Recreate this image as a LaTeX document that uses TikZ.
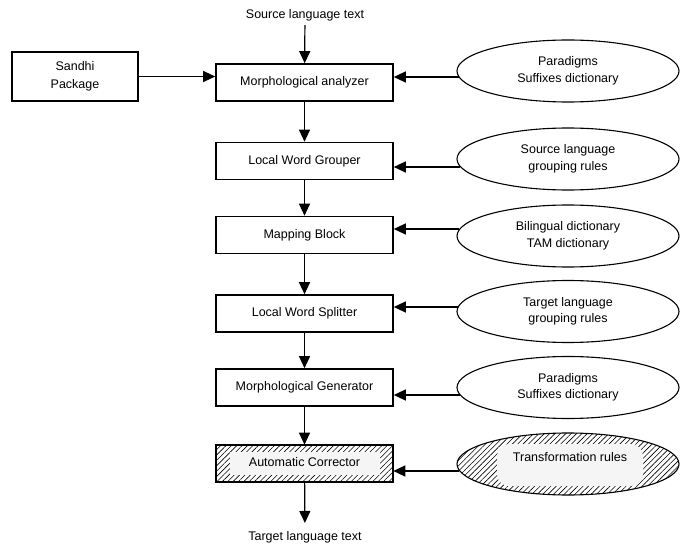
\documentclass[tikz,border=0pt]{standalone}
\usepackage{fontspec}
\setmainfont{Liberation Sans}
\usetikzlibrary{shapes.geometric,arrows.meta,patterns.meta}
\tikzset{
  txt/.style={font=\fontsize{12.5}{16.5}\selectfont, align=center},
  stagebox/.style={txt, draw, line width=1.6pt, minimum width=177pt, minimum height=37pt, inner sep=0pt},
  resell/.style={txt, ellipse, draw, line width=1.1pt, minimum width=222pt, minimum height=62pt, inner sep=0pt},
  arr/.style={-{Triangle[length=12pt,width=11pt]}, line width=1.2pt},
  hatch/.style={pattern={Lines[angle=45,distance=3.8pt,line width=0.6pt]}, pattern color=black},
  lightfill/.style={fill=gray!8, draw=none, inner sep=0pt}
}
\begin{document}
\begin{tikzpicture}[x=1pt,y=-1pt]
\useasboundingbox[fill=white] (0,0) rectangle (680,548);

% main column
\node[txt, inner sep=4pt] (src) at (305,15) {Source language text};
\node[stagebox] (m1) at (304.5,82.5) {Morphological analyzer};
\node[stagebox] (m2) at (304.5,161) {Local Word Grouper};
\node[stagebox] (m3) at (304.5,235) {Mapping Block};
\node[stagebox] (m4) at (304.5,313.5) {Local Word Splitter};
\node[stagebox] (m5) at (304.5,387.5) {Morphological Generator};
\node[stagebox, hatch] (m6) at (304.5,463.5) {};
\node[lightfill, minimum width=150pt, minimum height=23pt] (m6f) at (304.5,463.5) {};
\node[txt] (m6t) at (304.5,462) {Automatic Corrector};
\node[txt, inner sep=8pt] (tgt) at (305,537) {Target language text};

% sandhi package
\node[stagebox, minimum width=126pt, minimum height=49pt, font=\fontsize{12.5}{18}\selectfont] (sp) at (75,76.5) {Sandhi\\Package};

% resources
\node[resell] (e1) at (568,71) {Paradigms\\Suffixes dictionary};
\node[resell] (e2) at (568,159) {Source language\\grouping rules};
\node[resell] (e3) at (568,236) {Bilingual dictionary\\TAM dictionary};
\node[resell] (e4) at (568,311.5) {Target language\\grouping rules};
\node[resell] (e5) at (568,387.5) {Paradigms\\Suffixes dictionary};
\node[resell, hatch] (e6) at (568,464) {};
\node[lightfill, rounded corners=12pt, minimum width=146pt, minimum height=42pt] (e6f) at (570,465) {};
\node[txt] (e6t) at (570,457) {Transformation rules};

% vertical flow
\draw[arr] (src) -- (m1);
\draw[arr] (m1) -- (m2);
\draw[arr] (m2) -- (m3);
\draw[arr] (m3) -- (m4);
\draw[arr] (m4) -- (m5);
\draw[arr] (m5) -- (m6);
\draw[arr] (m6) -- (tgt);

% side inputs
\draw[arr] (sp) -- (sp -| m1.west);
\draw[arr] ([yshift=-6pt,xshift=2.1pt]e1.west) coordinate (s1) -- (s1 -| m1.east);
\draw[arr] ([yshift=-8pt,xshift=3.8pt]e2.west) coordinate (s2) -- (s2 -| m2.east);
\draw[arr] ([yshift=7pt,xshift=2.9pt]e3.west) coordinate (s3) -- (s3 -| m3.east);
\draw[arr] ([yshift=4.5pt,xshift=1.2pt]e4.west) coordinate (s4) -- (s4 -| m4.east);
\draw[arr] ([yshift=-7.5pt,xshift=3.3pt]e5.west) coordinate (s5) -- (s5 -| m5.east);
\draw[arr] ([yshift=-7pt,xshift=2.9pt]e6.west) coordinate (s6) -- (s6 -| m6.east);
\end{tikzpicture}
\end{document}
